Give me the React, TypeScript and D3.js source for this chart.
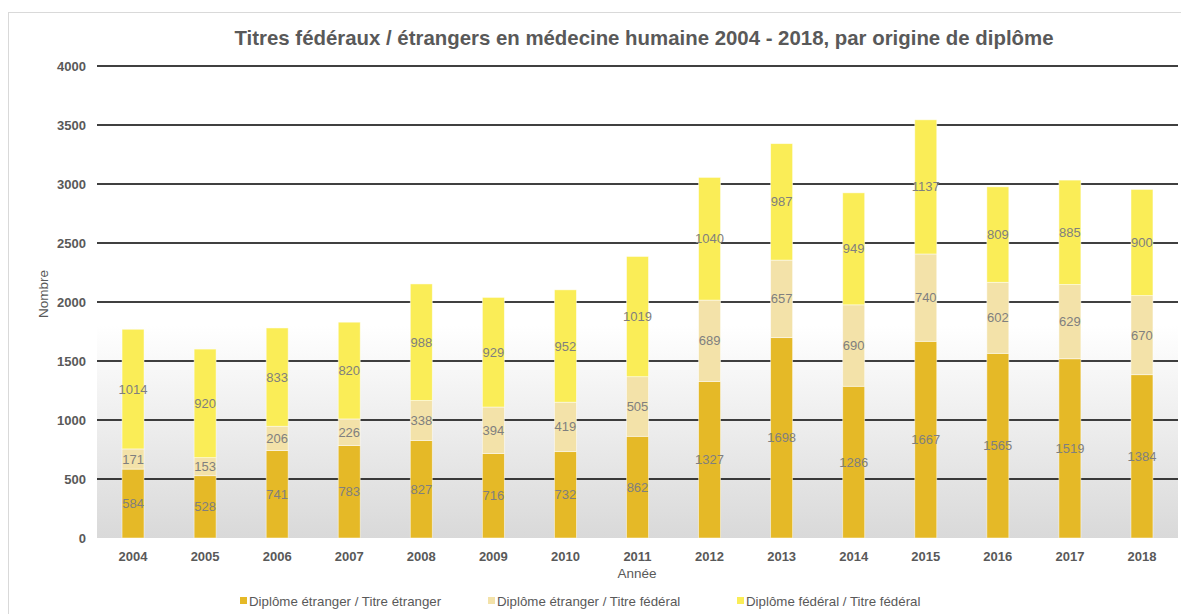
import React from "react";
import * as d3 from "d3";

const years = ["2004","2005","2006","2007","2008","2009","2010","2011","2012","2013","2014","2015","2016","2017","2018"];
const etrangerEtranger = [584, 528, 741, 783, 827, 716, 732, 862, 1327, 1698, 1286, 1667, 1565, 1519, 1384];
const etrangerFederal = [171, 153, 206, 226, 338, 394, 419, 505, 689, 657, 690, 740, 602, 629, 670];
const federalFederal = [1014, 920, 833, 820, 988, 929, 952, 1019, 1040, 987, 949, 1137, 809, 885, 900];
const yTicks = [0, 500, 1000, 1500, 2000, 2500, 3000, 3500, 4000];
const seriesNames = ["Diplôme étranger / Titre étranger", "Diplôme étranger / Titre fédéral", "Diplôme fédéral / Titre fédéral"];
const colors = ["#E5B927", "#F3E2A9", "#FAED57"];

const W = 1181, H = 614;
const left = 97, right = 1178, top = 66, bottom = 538;
const FONT = "'Liberation Sans', Arial, sans-serif";

export default function App() {
  const x = d3.scaleBand<string>().domain(years).range([left, right]).paddingInner(0.695).paddingOuter(0.3475);
  const y = d3.scaleLinear().domain([0, 4000]).range([bottom, top]);
  const table = years.map((yr, i) => ({ year: yr, a: etrangerEtranger[i], b: etrangerFederal[i], c: federalFederal[i] }));
  const stacked = d3.stack<any>().keys(["a", "b", "c"])(table);

  return (
    <svg width={W} height={H} style={{ position: "absolute", left: 0, top: 0, fontFamily: FONT }}>
      <defs>
        <linearGradient id="bg" x1="0" y1="0" x2="0" y2="1">
          <stop offset="0" stopColor="#ffffff" />
          <stop offset="0.55" stopColor="#ffffff" />
          <stop offset="1" stopColor="#d9d9d9" />
        </linearGradient>
      </defs>
      <rect x={0} y={0} width={W} height={H} fill="#fff" />
      <rect x={8.5} y={12.5} width={W} height={H} fill="#fff" stroke="#d9d9d9" strokeWidth={1} />
      <rect x={left} y={top} width={right - left} height={bottom - top} fill="url(#bg)" />
      {yTicks.map(t => (
        <g key={t}>
          {t > 0 && <line x1={left} x2={right} y1={y(t)} y2={y(t)} stroke="#000" strokeWidth={1.3} />}
          <text x={86} y={y(t)} dy="0.35em" textAnchor="end" fontSize={13} fontWeight="bold" fill="#595959">{t}</text>
        </g>
      ))}
      {stacked.map((s, si) => (
        <g key={si}>
          {s.map((d, i) => (
            <rect key={i} x={x(years[i])!} width={x.bandwidth()} y={y(d[1])} height={y(d[0]) - y(d[1])}
              fill={colors[si]} stroke="#fff" strokeOpacity={0.6} strokeWidth={0.8} />
          ))}
        </g>
      ))}
      {stacked.map((s, si) => (
        <g key={"l" + si}>
          {s.map((d, i) => (
            <text key={i} x={x(years[i])! + x.bandwidth() / 2} y={(y(d[0]) + y(d[1])) / 2} dy="0.35em"
              textAnchor="middle" fontSize={13} fill="#7f7f7f">{d[1] - d[0]}</text>
          ))}
        </g>
      ))}
      {years.map(yr => (
        <text key={yr} x={x(yr)! + x.bandwidth() / 2} y={556} dy="0.35em" textAnchor="middle" fontSize={13} fontWeight="bold" fill="#595959">{yr}</text>
      ))}
      <text x={637} y={573} dy="0.35em" textAnchor="middle" fontSize={13.5} fill="#595959">Année</text>
      <text transform={`translate(43,294) rotate(-90)`} dy="0.35em" textAnchor="middle" fontSize={13.5} fill="#595959">Nombre</text>
      <text x={644} y={38} dy="0.35em" textAnchor="middle" fontSize={20.4} fontWeight="bold" fill="#595959">Titres fédéraux / étrangers en médecine humaine 2004 - 2018, par origine de diplôme</text>
      {seriesNames.map((n, i) => {
        const lx = [240, 488, 737][i];
        return (
          <g key={n}>
            <rect x={lx} y={597} width={7} height={7} fill={colors[i]} />
            <text x={lx + 9} y={601} dy="0.35em" fontSize={13.3} fill="#595959">{n}</text>
          </g>
        );
      })}
    </svg>
  );
}
